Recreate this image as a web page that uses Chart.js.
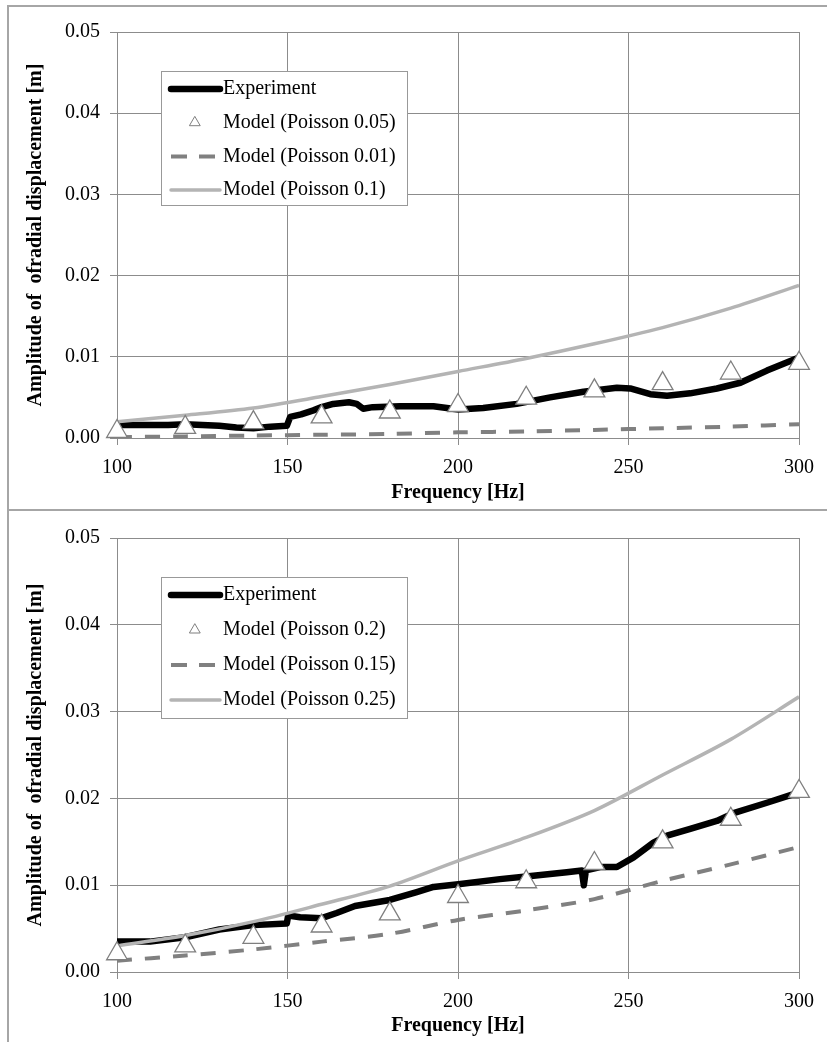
<!DOCTYPE html>
<html>
<head>
<meta charset="utf-8">
<script src="https://cdn.jsdelivr.net/npm/chart.js@4/dist/chart.umd.min.js"></script>
<style>
  body { margin: 0; background: #fff; }
  #page { position: relative; width: 827px; height: 1042px; overflow: hidden; }
  .panel { position: absolute; left: 0; width: 827px; }
  .rule { position: absolute; background: #a6a6a6; }
</style>
</head>
<body>
<div id="page">
  <div class="panel" style="top:0;height:510px"><canvas id="chartTop"></canvas></div>
  <div class="panel" style="top:510px;height:532px"><canvas id="chartBottom"></canvas></div>
  <div class="rule" style="left:7px;top:5px;width:820px;height:2px"></div>
  <div class="rule" style="left:7px;top:5px;width:2px;height:1037px"></div>
  <div class="rule" style="left:7px;top:509px;width:820px;height:2px"></div>
</div>
<script>
// Top chart data
const topExpFreq = [100, 105, 110, 115, 120, 125, 130, 135, 140, 145, 149.8, 150.8, 154, 157.6, 160, 163.4, 168, 170.3, 172.2, 175, 183, 192.8, 200.1, 207.4, 217.2, 227, 236.8, 246.6, 250.5, 256.4, 261.3, 268.1, 275.9, 282.8, 290.6, 300]
const topExpAmp = [0.0016, 0.0016, 0.0016, 0.0016, 0.0017, 0.0016, 0.0015, 0.0013, 0.0012, 0.0014, 0.0015, 0.0026, 0.0029, 0.0034, 0.0038, 0.0042, 0.0044, 0.0042, 0.0036, 0.0038, 0.0039, 0.0039, 0.0035, 0.0037, 0.0042, 0.0050, 0.0057, 0.0062, 0.0061, 0.0054, 0.0052, 0.0055, 0.0061, 0.0068, 0.0083, 0.0099]
const modelFreq = [100, 120, 140, 160, 180, 200, 220, 240, 260, 280, 300]
const topModel005 = [0.0008, 0.0013, 0.0019, 0.0026, 0.0032, 0.0040, 0.0049, 0.0058, 0.0067, 0.0080, 0.0092]
const topModel001 = [0.0001, 0.0002, 0.0003, 0.0004, 0.0005, 0.0007, 0.0008, 0.0010, 0.0012, 0.0014, 0.0017]
const topModel01 = [0.0020, 0.0028, 0.0037, 0.0051, 0.0066, 0.0082, 0.0098, 0.0116, 0.0136, 0.0160, 0.0188]

// Bottom chart data
const botExpFreq = [100, 109.7, 120, 130, 140, 149.8, 150.2, 153.7, 160, 164.4, 169.8, 180, 187.9, 192.8, 200.1, 212.3, 222.1, 231.9, 236.3, 236.9, 237.5, 241.7, 246.6, 251.5, 257.3, 261.3, 268.1, 275.9, 280.8, 290.6, 298.4, 300]
const botExpAmp = [0.0035, 0.0035, 0.0040, 0.0049, 0.0054, 0.0056, 0.0065, 0.0063, 0.0062, 0.0068, 0.0076, 0.0083, 0.0092, 0.0098, 0.0101, 0.0107, 0.0111, 0.0115, 0.0117, 0.0100, 0.0117, 0.0121, 0.0121, 0.0132, 0.0149, 0.0157, 0.0165, 0.0174, 0.0183, 0.0195, 0.0205, 0.0206]
const botModel02 = [0.0021, 0.0030, 0.0040, 0.0053, 0.0067, 0.0087, 0.0104, 0.0125, 0.0150, 0.0176, 0.0208]
const botModel015 = [0.0013, 0.0019, 0.0026, 0.0035, 0.0044, 0.0060, 0.0071, 0.0084, 0.0105, 0.0124, 0.0144]
const botModel025 = [0.0030, 0.0042, 0.0058, 0.0078, 0.0099, 0.0128, 0.0155, 0.0186, 0.0227, 0.0268, 0.0317]

const yTicks = [0, 0.01, 0.02, 0.03, 0.04, 0.05]
const xTicks = [100, 150, 200, 250, 300]

const FONT = "'Liberation Serif', 'Times New Roman', serif"
const GRID = "#8c8c8c"

const pts = (xs, ys) => xs.map((x, i) => ({ x: x, y: ys[i] }))

// legend drawn inside the plot, like the original
const insideLegend = {
  id: "insideLegend",
  afterDraw(chart) {
    const ctx = chart.ctx
    const area = chart.chartArea
    const box = chart.options.plugins.insideLegend
    const x0 = area.left + 44
    const y0 = area.top + 39
    const w = 246
    const h = box.height
    ctx.save()
    ctx.fillStyle = "#fff"
    ctx.fillRect(x0, y0, w, h)
    ctx.strokeStyle = "#999"
    ctx.lineWidth = 1
    ctx.strokeRect(x0 + 0.5, y0 + 0.5, w, h)
    ctx.font = "20px " + FONT
    ctx.textBaseline = "middle"
    chart.data.datasets.forEach((ds, i) => {
      const cy = y0 + box.first + i * box.step
      if (ds.showLine === false) {
        ctx.beginPath()
        const r = 6
        const cx = x0 + 34
        ctx.moveTo(cx, cy - r)
        ctx.lineTo(cx + r * 0.87, cy + r / 2)
        ctx.lineTo(cx - r * 0.87, cy + r / 2)
        ctx.closePath()
        ctx.fillStyle = "#fff"
        ctx.fill()
        ctx.strokeStyle = ds.pointBorderColor
        ctx.lineWidth = 1
        ctx.stroke()
      } else {
        ctx.beginPath()
        ctx.strokeStyle = ds.borderColor
        ctx.lineWidth = ds.borderWidth
        ctx.lineCap = ds.borderDash ? "butt" : "round"
        ctx.setLineDash(ds.borderDash ? [16, 12] : [])
        ctx.moveTo(x0 + 10, cy)
        ctx.lineTo(x0 + 59, cy)
        ctx.stroke()
        ctx.setLineDash([])
      }
      ctx.fillStyle = "#000"
      ctx.fillText(ds.label, x0 + 62, cy)
    })
    ctx.restore()
  },
}

function makeChart(id, cfg) {
  const datasets = [
    {
      label: "Experiment",
      data: pts(cfg.expFreq, cfg.expAmp),
      borderColor: "#000",
      backgroundColor: "#000",
      borderWidth: 6.5,
      pointRadius: 0,
      borderJoinStyle: "round",
      borderCapStyle: "round",
      order: 3,
    },
    {
      label: cfg.names[0],
      data: pts(modelFreq, cfg.mid),
      showLine: false,
      clip: false,
      pointStyle: "triangle",
      pointRadius: 12,
      pointBorderColor: "#7f7f7f",
      pointBackgroundColor: "#fff",
      pointBorderWidth: 1.3,
      order: 0,
    },
    {
      label: cfg.names[1],
      data: pts(modelFreq, cfg.low),
      borderColor: "#808080",
      borderWidth: 4,
      borderDash: [15, 13],
      pointRadius: 0,
      tension: 0.3,
      order: 2,
    },
    {
      label: cfg.names[2],
      data: pts(modelFreq, cfg.high),
      borderColor: "#b4b4b4",
      borderWidth: 3.5,
      pointRadius: 0,
      tension: 0.3,
      order: 1,
    },
  ]

  return new Chart(document.getElementById(id), {
    type: "line",
    data: { datasets: datasets },
    plugins: [insideLegend],
    options: {
      responsive: true,
      maintainAspectRatio: false,
      animation: false,
      layout: { padding: { top: cfg.top, right: 28, bottom: 0, left: 0 } },
      plugins: {
        legend: { display: false },
        tooltip: { enabled: false },
        insideLegend: cfg.legend,
      },
      scales: {
        x: {
          type: "linear",
          min: 100,
          max: 300,
          afterBuildTicks: (s) => { s.ticks = xTicks.map((v) => ({ value: v })) },
          afterFit: (s) => { s.height = cfg.xHeight },
          grid: { color: GRID, tickLength: 7, tickColor: GRID },
          border: { color: GRID },
          ticks: { color: "#000", font: { family: FONT, size: 20 }, padding: 11, maxRotation: 0 },
          title: {
            display: true,
            text: "Frequency [Hz]",
            color: "#000",
            font: { family: FONT, size: 20, weight: "bold" },
            padding: { top: 0, bottom: cfg.titlePad },
          },
        },
        y: {
          min: 0,
          max: 0.05,
          afterBuildTicks: (s) => { s.ticks = yTicks.map((v) => ({ value: v })) },
          afterFit: (s) => { s.width = 117 },
          grid: { color: GRID, tickLength: 7, tickColor: GRID },
          border: { color: GRID },
          ticks: {
            color: "#000",
            font: { family: FONT, size: 20 },
            padding: 10,
            callback: (v) => v.toFixed(2),
          },
          title: {
            display: true,
            text: "Amplitude of  ofradial displacement [m]",
            color: "#000",
            font: { family: FONT, size: 20, weight: "bold" },
            padding: { top: 24, bottom: 0 },
          },
        },
      },
    },
  })
}

makeChart("chartTop", {
  expFreq: topExpFreq,
  expAmp: topExpAmp,
  mid: topModel005,
  low: topModel001,
  high: topModel01,
  names: ["Model (Poisson 0.05)", "Model (Poisson 0.01)", "Model (Poisson 0.1)"],
  top: 32,
  xHeight: 72,
  titlePad: 5,
  legend: { height: 134, first: 18, step: 33.7 },
})

makeChart("chartBottom", {
  expFreq: botExpFreq,
  expAmp: botExpAmp,
  mid: botModel02,
  low: botModel015,
  high: botModel025,
  names: ["Model (Poisson 0.2)", "Model (Poisson 0.15)", "Model (Poisson 0.25)"],
  top: 28,
  xHeight: 70,
  titlePad: 4,
  legend: { height: 141, first: 18, step: 35 },
})
</script>
</body>
</html>
